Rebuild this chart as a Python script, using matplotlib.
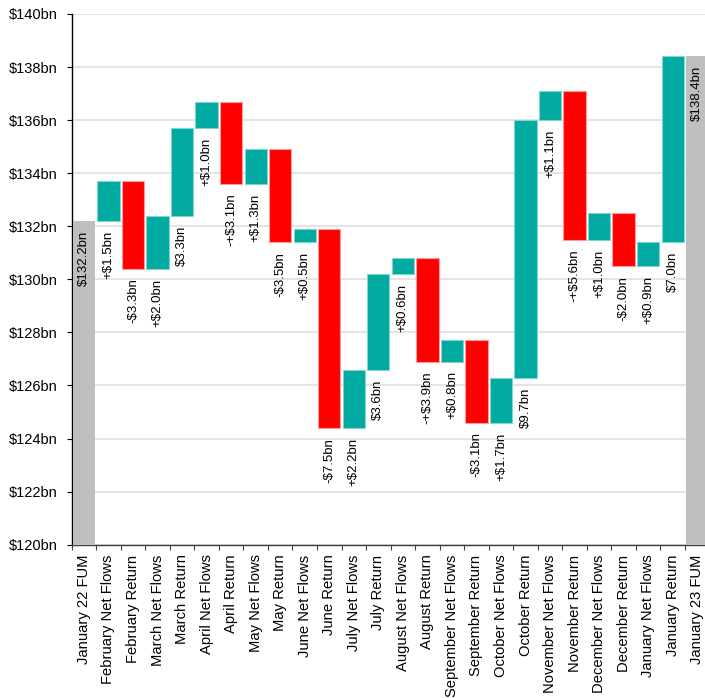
import matplotlib
matplotlib.use("Agg")
import matplotlib.pyplot as plt
import numpy as np

plt.rcParams['font.family'] = ['Liberation Sans', 'DejaVu Sans']

categories = ["January 22 FUM",
              "February Net Flows", "February Return",
              "March Net Flows", "March Return",
              "April Net Flows", "April Return",
              "May Net Flows", "May Return",
              "June Net Flows", "June Return",
              "July Net Flows", "July Return",
              "August Net Flows", "August Return",
              "September Net Flows", "September Return",
              "October Net Flows", "October Return",
              "November Net Flows", "November Return",
              "December Net Flows", "December Return",
              "January Net Flows", "January Return",
              "January 23 FUM"]
start_value = 132.2
end_value = 138.4
deltas = [1.5, -3.3, 2.0, 3.3, 1.0, -3.1, 1.3, -3.5, 0.5, -7.5, 2.2, 3.6,
          0.6, -3.9, 0.8, -3.1, 1.7, 9.7, 1.1, -5.6, 1.0, -2.0, 0.9, 7.0]
labels = ["$132.2bn",
          "+$1.5bn", "-$3.3bn", "+$2.0bn", "$3.3bn", "+$1.0bn", "-+$3.1bn",
          "+$1.3bn", "-$3.5bn", "+$0.5bn", "-$7.5bn", "+$2.2bn", "$3.6bn",
          "+$0.6bn", "-+$3.9bn", "+$0.8bn", "-$3.1bn", "+$1.7bn", "$9.7bn",
          "+$1.1bn", "-+$5.6bn", "+$1.0bn", "-$2.0bn", "+$0.9bn", "$7.0bn",
          "$138.4bn"]
yticks = [120, 122, 124, 126, 128, 130, 132, 134, 136, 138, 140]

TEAL = "#00AAA0"
TEAL_EDGE = "#7fd6cf"
RED = "#FF0000"
RED_EDGE = "#ff9a9a"
GRAY = "#BFBFBF"

fig = plt.figure(figsize=(7.05, 6.98), dpi=100)
ax = fig.add_axes([71.7/705, 1-544.7/698, 637.8/705, 530.7/698])

ymin, ymax = 120, 140
x = np.arange(len(categories))
w = 0.91

# totals
ax.bar(x[0], start_value, width=w, bottom=0, color=GRAY, zorder=3)
ax.bar(x[-1], end_value, width=w, bottom=0, color=GRAY, zorder=3)

# deltas
level = start_value
label_y = [start_value]
for i, d in enumerate(deltas):
    lo = min(level, level + d)
    col = TEAL if d >= 0 else RED
    ec = TEAL_EDGE if d >= 0 else RED_EDGE
    ax.bar(x[i+1], abs(d), width=w, bottom=lo, color=col, edgecolor=ec,
           linewidth=0.8, zorder=3)
    label_y.append(lo)
    level += d
label_y.append(end_value)

for xi, yi, t in zip(x, label_y, labels):
    ax.annotate(t, (xi, yi), xytext=(0, -7), textcoords='offset points',
                rotation=90, ha='center', va='top', fontsize=9.5,
                color='#000000', zorder=4)

ax.set_xlim(-0.5, len(categories)-0.5)
ax.set_ylim(ymin, ymax)
ax.set_yticks(yticks)
ax.set_yticklabels([f"${v}bn" for v in yticks], fontsize=10.5)
ax.yaxis.grid(True, color="#DDDDDD", linewidth=1.1, zorder=0)
ax.set_axisbelow(True)

ax.set_xticks(x)
ax.set_xticklabels(categories, rotation=90, fontsize=10.6)
ax.set_xticks(np.arange(len(categories)+1) - 0.5, minor=True)
ax.tick_params(axis='x', which='major', length=0, pad=7)
ax.tick_params(axis='x', which='minor', length=3.6, width=0.8, color='#404040')
ax.tick_params(axis='y', length=3.6, width=0.8, color='black', pad=6.5)

for s in ['top', 'right']:
    ax.spines[s].set_visible(False)
ax.spines['left'].set_color('black')
ax.spines['left'].set_linewidth(1.0)
ax.spines['bottom'].set_color('#404040')
ax.spines['bottom'].set_linewidth(1.0)

fig.savefig("out.png", dpi=100)
